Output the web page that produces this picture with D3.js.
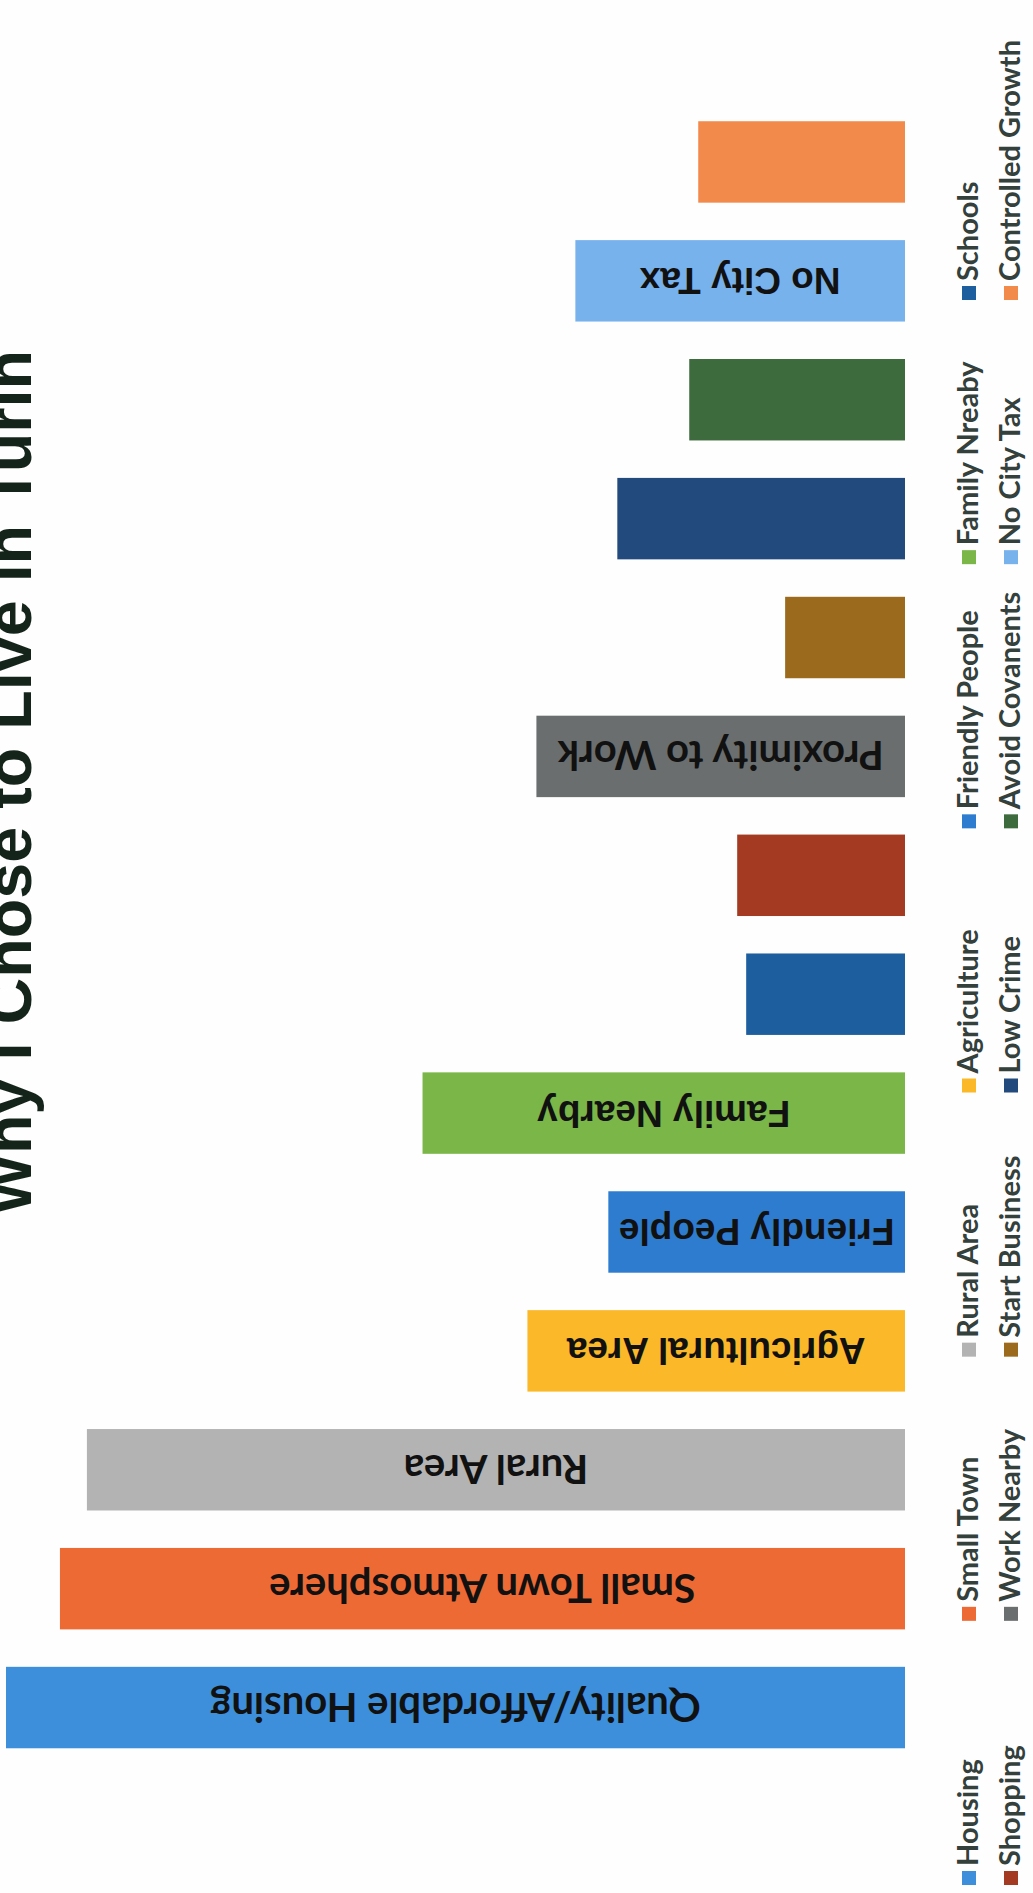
<!DOCTYPE html>
<html>
<head>
<meta charset="utf-8">
<script src="https://cdn.jsdelivr.net/npm/d3@7"></script>
<style>
  html, body { margin: 0; padding: 0; background: #fefefe; }
  svg { display: block; }
</style>
</head>
<body>
<div id="chart"></div>
<script>
// ---- data ----
const title = "Why I Chose to Live in Turin";
const categories = ["Housing", "Small Town", "Rural Area", "Agriculture", "Friendly People", "Family Nreaby", "Schools",
                    "Shopping", "Work Nearby", "Start Business", "Low Crime", "Avoid Covanents", "No City Tax", "Controlled Growth"];
const values = [30, 28.2, 27.3, 12.6, 9.9, 16.1, 5.3, 5.6, 12.3, 4.0, 9.6, 7.2, 11.0, 6.9];
const barLabels = ["Quality/Affordable Housing", "Small Town Atmosphere", "Rural Area", "Agricultural Area", "Friendly People",
                   "Family Nearby", "", "", "Proximity to Work", "", "", "", "No City Tax", ""];
const labelStyle = ["c", "c", "c", "a", "a", "a", "", "", "c", "", "", "", "a", ""];
const colors = ["#3d8fdb", "#ee6a35", "#b3b3b3", "#fbb829", "#2e7ccf", "#7ab648", "#1c5e9e",
                "#a43a22", "#6a6e6e", "#9b6a1d", "#234a7c", "#3e6b3d", "#78b2ec", "#f28a4b"];
const legendRows = [categories.slice(0, 7), categories.slice(7)];

// ---- layout ----
const W = 1033, H = 1893;
const svg = d3.select("#chart").append("svg").attr("width", W).attr("height", H);
svg.append("rect").attr("width", W).attr("height", H).attr("fill", "#fefefe");

const baseX = 905;
const x = d3.scaleLinear().domain([0, 30]).range([baseX, baseX - 899]);
const y = d3.scaleBand().domain(categories).range([1767, 102.5]).paddingInner(0.315).paddingOuter(0.1575);
const color = d3.scaleOrdinal().domain(categories).range(colors);

const data = categories.map((c, i) => ({ cat: c, v: values[i], label: barLabels[i], style: labelStyle[i] }));

svg.append("g").selectAll("rect").data(data).join("rect")
  .attr("x", d => x(d.v))
  .attr("y", d => y(d.cat))
  .attr("width", d => x(0) - x(d.v))
  .attr("height", y.bandwidth())
  .attr("fill", d => color(d.cat));

svg.append("g").selectAll("text").data(data.filter(d => d.label)).join("text")
  .attr("transform", d => `translate(${(x(0) + x(d.v)) / 2},${y(d.cat) + y.bandwidth() / 2}) rotate(180)`)
  .attr("text-anchor", "middle")
  .attr("dominant-baseline", "central")
  .attr("font-family", d => d.style === "a" ? "'Liberation Sans', Arial, sans-serif" : "Lato, 'Open Sans', sans-serif")
  .attr("font-weight", 700)
  .attr("font-size", d => d.style === "a" ? 37 : 40)
  .attr("fill", "#111")
  .text(d => d.label);

// title (rotated, partially cut at left edge as in the scan)
svg.append("text")
  .attr("transform", "translate(31,1215) rotate(-90)")
  .attr("font-family", "'Liberation Sans Narrow', 'Liberation Sans', Arial, sans-serif")
  .attr("font-weight", 700)
  .attr("font-size", 64)
  .attr("textLength", 865)
  .attr("lengthAdjust", "spacingAndGlyphs")
  .attr("fill", "#14241a")
  .text(title);

// legend (rotated)
const legendCols = [978, 1020];
const ly = d3.scaleLinear().domain([0, 6]).range([1885, 300]);
const sq = 14;
legendRows.forEach((row, r) => {
  const g = svg.append("g");
  row.forEach((c, i) => {
    const yb = ly(i);
    g.append("rect")
      .attr("x", legendCols[r] - 16).attr("y", yb - sq)
      .attr("width", sq).attr("height", sq)
      .attr("fill", color(c));
    g.append("text")
      .attr("transform", `translate(${legendCols[r]},${yb - sq - 5}) rotate(-90)`)
      .attr("font-family", "Lato, 'Open Sans', sans-serif")
      .attr("font-weight", 700)
      .attr("font-size", 29)
      .attr("fill", "#33403b")
      .text(c);
  });
});
</script>
</body>
</html>
